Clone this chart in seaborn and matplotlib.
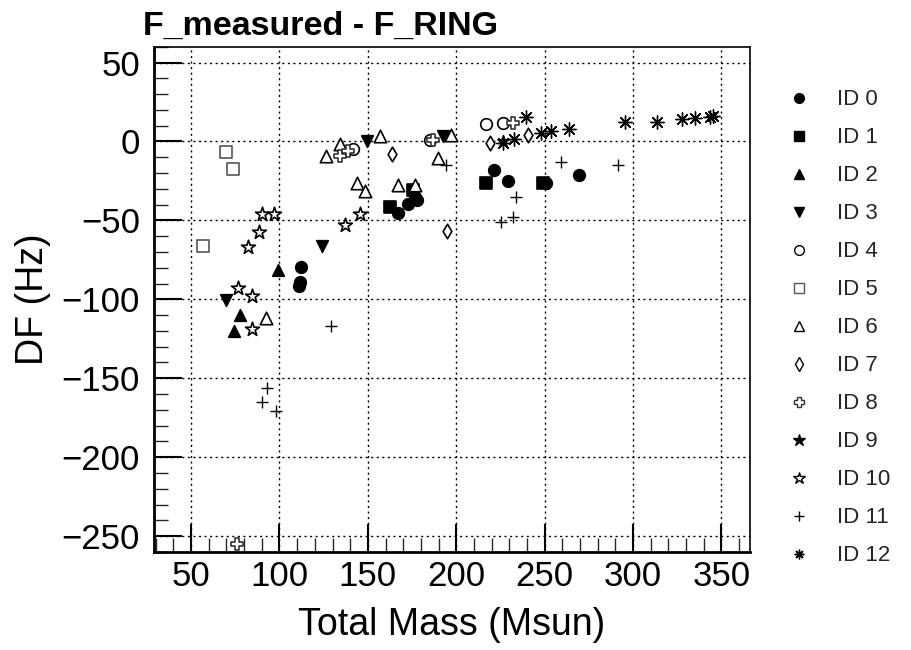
import matplotlib
matplotlib.use("Agg")
import matplotlib.pyplot as plt
import seaborn as sns
import pandas as pd
from matplotlib.ticker import MultipleLocator
from matplotlib.lines import Line2D

sns.set_theme(style="white")
plt.rcParams['font.family'] = ['Liberation Sans', 'DejaVu Sans']
plt.rcParams['axes.unicode_minus'] = True

# ---- data ----
id0_mass = [112.0, 110.8, 111.5, 167.0, 172.6, 176.4, 177.9, 221.6, 229.3, 250.8, 269.6]
id0_df   = [-79.3, -91.5, -89.0, -45.0, -39.5, -35.0, -37.0, -18.2, -25.2, -26.6, -21.4]
id1_mass = [162.3, 175.4, 216.9, 248.9]
id1_df   = [-41.3, -31.0, -26.2, -26.2]
id2_mass = [99.0, 77.9, 74.0]
id2_df   = [-81.6, -109.7, -119.8]
id3_mass = [123.8, 69.8, 149.5, 192.6]
id3_df   = [-66.0, -100.4, 0.5, 3.4]
id4_mass = [141.5, 184.9, 216.9, 226.3]
id4_df   = [-5.0, 1.0, 10.8, 12.0]
id5_mass = [69.8, 73.6, 56.8]
id5_df   = [-6.5, -17.3, -66.0]
id6_mass = [126.5, 134.0, 143.8, 148.1, 156.6, 92.2, 167.0, 176.4, 189.5, 197.1]
id6_df   = [-9.5, -1.5, -26.6, -31.3, 3.4, -112.0, -27.3, -27.3, -10.2, 4.4]
id7_mass = [163.8, 194.7, 218.8, 240.4]
id7_df   = [-8.2, -56.4, -1.0, 4.4]
id8_mass = [134.0, 138.7, 186.8, 231.9, 76.0]
id8_df   = [-9.3, -6.1, 1.0, 11.9, -255.0]
id9_mass = [226.3]
id9_df   = [0.0]
id10_mass = [90.3, 96.7, 145.7, 136.8, 88.3, 82.4, 76.6, 84.5, 84.7]
id10_df   = [-45.9, -45.9, -45.7, -53.0, -57.3, -67.0, -92.8, -97.7, -118.8]
id11_mass = [129.3, 92.9, 90.1, 97.9, 194.3, 259.2, 233.8, 225.5, 231.9, 291.6]
id11_df   = [-117.0, -156.2, -164.9, -171.0, -14.6, -13.1, -35.1, -50.7, -48.0, -15.2]
id12_mass = [239.5, 226.3, 232.9, 248.0, 253.6, 263.6, 295.4, 313.5, 327.5, 335.2, 343.5, 345.3]
id12_df   = [15.5, -1.0, 1.5, 5.5, 6.5, 8.0, 12.5, 12.5, 14.4, 15.0, 15.7, 16.0]

labels = ["ID 0", "ID 1", "ID 2", "ID 3", "ID 4", "ID 5", "ID 6",
          "ID 7", "ID 8", "ID 9", "ID 10", "ID 11", "ID 12"]
masses = [id0_mass, id1_mass, id2_mass, id3_mass, id4_mass, id5_mass, id6_mass,
          id7_mass, id8_mass, id9_mass, id10_mass, id11_mass, id12_mass]
dfs = [id0_df, id1_df, id2_df, id3_df, id4_df, id5_df, id6_df,
       id7_df, id8_df, id9_df, id10_df, id11_df, id12_df]

# style: (marker, filled, size, edgecolor)
styles = [
    ("o", True, 70, "black"),
    ("s", True, 70, "black"),
    ("^", True, 70, "black"),
    ("v", True, 70, "black"),
    ("o", False, 70, "black"),
    ("s", False, 75, "#555555"),
    ("^", False, 80, "black"),
    ("d", False, 55, "black"),
    ("P", False, 75, "#333333"),
    ("*", True, 70, "black"),
    ("*", False, 110, "black"),
    ("+", None, 80, "black"),
    ((8, 2, 0), None, 90, "black"),
]

rows = []
for lab, m, d in zip(labels, masses, dfs):
    for a, b in zip(m, d):
        rows.append({"ID": lab, "mass": a, "df": b})
data = pd.DataFrame(rows)

fig = plt.figure(figsize=(9.11, 6.5), dpi=100)
ax = fig.add_axes([0.169, 0.151, 0.654, 0.777])

handles = []
for lab, (mk, filled, sz, ec) in zip(labels, styles):
    sub = data[data["ID"] == lab]
    if filled is None:
        sns.scatterplot(data=sub, x="mass", y="df", marker=mk, s=sz,
                        color="black", linewidth=1.0, ax=ax, zorder=3)
        h = Line2D([], [], ls="none", marker=mk, color="black", markersize=7, mew=1.0)
    else:
        fc = "black" if filled else "white"
        sns.scatterplot(data=sub, x="mass", y="df", marker=mk, s=sz,
                        facecolor=fc, edgecolor=ec, linewidth=1.2, ax=ax, zorder=3)
        h = Line2D([], [], ls="none", marker=mk, markerfacecolor=fc,
                   markeredgecolor=ec, markersize=7 if mk != "*" else 9, mew=1.0)
    handles.append(h)

ax.set_xlim(29, 366)
ax.set_ylim(-260, 60)
ax.xaxis.set_major_locator(MultipleLocator(50))
ax.xaxis.set_minor_locator(MultipleLocator(10))
ax.yaxis.set_major_locator(MultipleLocator(50))
ax.yaxis.set_minor_locator(MultipleLocator(10))
ax.tick_params(axis="both", which="major", direction="in", length=20, width=1.5,
               labelsize=25, colors="black", top=False, right=False,
               bottom=True, left=True, pad=6)
ax.tick_params(axis="y", which="major", pad=10)
ax.tick_params(axis="both", which="minor", direction="in", length=10, width=1.0,
               top=False, right=False, bottom=True, left=True)
ax.grid(True, which="major", linestyle=(0, (1.5, 2.5)), color="black", linewidth=1.0)
ax.set_axisbelow(True)
for sp in ax.spines.values():
    sp.set_color("black")
    sp.set_linewidth(1.2)
ax.spines["left"].set_linewidth(2.0)
ax.spines["bottom"].set_linewidth(2.0)

ax.set_xlabel("Total Mass (Msun)", fontsize=27, labelpad=10, color="black")
ax.set_ylabel("DF (Hz)", fontsize=27, labelpad=8, color="black")
fig.text(0.157, 0.935, "F_measured - F_RING", fontsize=24.5, fontweight="bold",
         ha="left", va="bottom", color="black")

leg = fig.legend(handles, labels, loc="upper left", bbox_to_anchor=(0.855, 0.876),
                 frameon=False, fontsize=16, handletextpad=1.2, labelspacing=0.765,
                 handlelength=1.0, borderaxespad=0)

fig.savefig("out.png", dpi=100, facecolor="white")
